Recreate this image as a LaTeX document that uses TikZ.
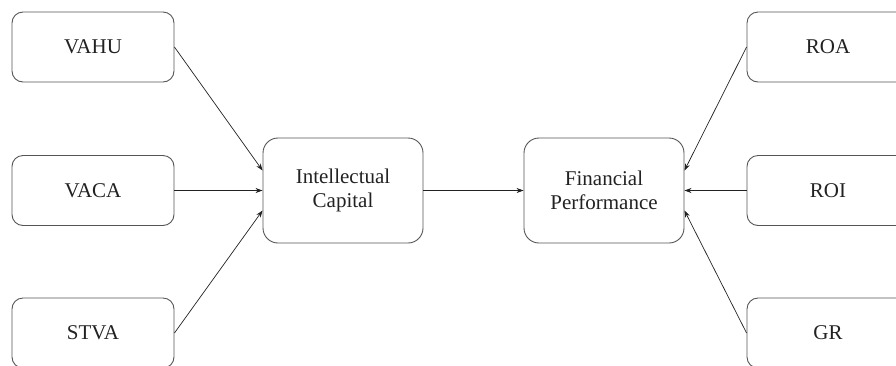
\documentclass[tikz,border=0pt]{standalone}
\usepackage{fontspec}
\setmainfont{Liberation Serif}
\usetikzlibrary{arrows.meta}
\definecolor{edgegray}{HTML}{555555}
\definecolor{inkgray}{HTML}{222222}
\begin{document}
\begin{tikzpicture}[x=1pt,y=-1pt,
  box/.style={draw=edgegray, line width=0.9pt, rounded corners=11pt,
    minimum width=162pt, minimum height=70pt, inner sep=0pt,
    text=inkgray, font=\fontsize{21}{24}\selectfont, align=center},
  bigbox/.style={box, rounded corners=15pt, minimum width=160pt, minimum height=105pt},
  link/.style={draw=inkgray, line width=0.7pt, -{Stealth[length=7pt,width=5pt]}}]
\useasboundingbox (0,0) rectangle (896,365);
\clip (0,0) rectangle (896,365);
% indicator boxes on the left
\node[box] (vahu) at (93,47) {VAHU};
\node[box] (vaca) at (93,190.5) {VACA};
\node[box] (stva) at (93,333) {STVA};
% the two constructs
\node[bigbox] (ic) at (343,190.5) {Intellectual\\Capital};
\node[bigbox] (fp) at (604,190.5) {Financial\\Performance};
% indicator boxes on the right
\node[box] (roa) at (828,47) {ROA};
\node[box] (roi) at (828,190.5) {ROI};
\node[box] (gr) at (828,333) {GR};
% connectors
\draw[link] (vahu.east) -- ([yshift=20pt]ic.west);
\draw[link] (vaca.east) -- (ic.west);
\draw[link] (stva.east) -- ([yshift=-20pt]ic.west);
\draw[link] (ic.east) -- (fp.west);
\draw[link] (roa.west) -- ([yshift=20pt]fp.east);
\draw[link] (roi.west) -- (fp.east);
\draw[link] (gr.west) -- ([yshift=-20pt]fp.east);
\end{tikzpicture}
\end{document}
